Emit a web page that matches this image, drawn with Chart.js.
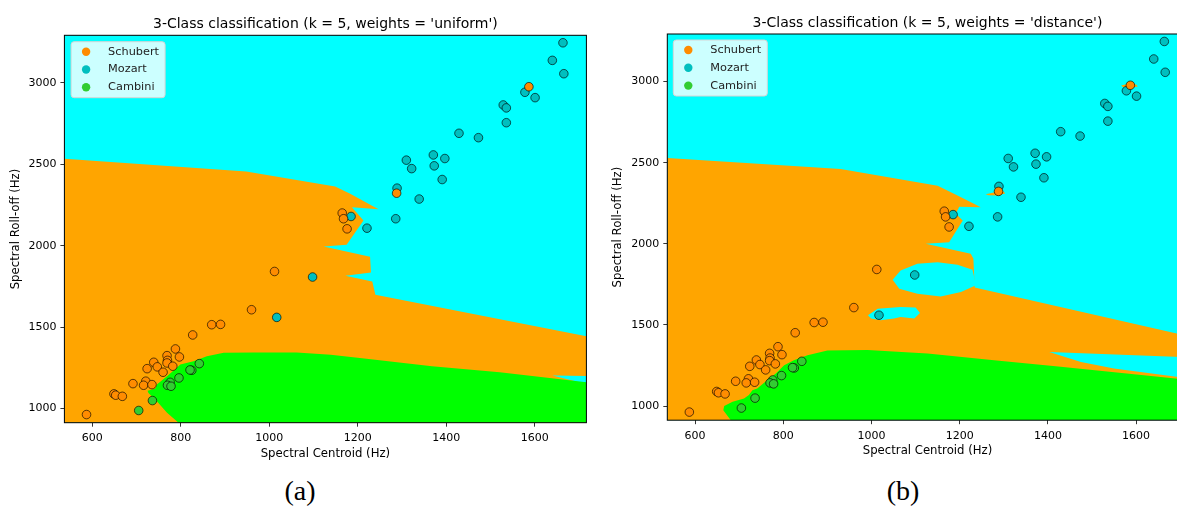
<!DOCTYPE html>
<html>
<head>
<meta charset="utf-8">
<script src="https://cdn.jsdelivr.net/npm/chart.js@4.4.0/dist/chart.umd.min.js"></script>
<style>
  html, body { margin: 0; padding: 0; background: #fff; overflow: hidden; }
  #wrap { position: relative; width: 1177px; height: 506px; overflow: hidden; }
  canvas { position: absolute; top: 0; }
  #chartA { left: 0; }
  #chartB { left: 603px; }
  .cap { position: absolute; top: 477px; line-height: 28px; font-family: "Liberation Serif", serif; font-size: 28px; color: #000; transform: translateX(-50%); }
</style>
</head>
<body>
<div id="wrap">
  <canvas id="chartA" width="648" height="470"></canvas>
  <canvas id="chartB" width="646" height="470"></canvas>
  <div class="cap" style="left:300px">(a)</div>
  <div class="cap" style="left:903px">(b)</div>
</div>
<script>
const xTicks = [600, 800, 1000, 1200, 1400, 1600];
const yTicks = [1000, 1500, 2000, 2500, 3000];
const classNames = ["Schubert", "Mozart", "Cambini"];
const titles = [
  "3-Class classification (k = 5, weights = 'uniform')",
  "3-Class classification (k = 5, weights = 'distance')"
];

// samples: spectral centroid (x) and roll-off (y)
const schubertX = [1587, 1288, 1165, 1168, 1176, 1012, 960, 870, 890, 827, 788, 769, 797, 770, 769, 782, 739, 747, 724, 760, 721, 692, 716, 735, 649, 653, 668, 587];
const schubertY = [2977, 2323, 2201, 2166, 2104, 1842, 1607, 1515, 1517, 1452, 1366, 1325, 1317, 1296, 1280, 1260, 1284, 1256, 1245, 1223, 1168, 1153, 1143, 1147, 1090, 1082, 1075, 963];
const mozartX = [1664, 1640, 1666, 1578, 1601, 1529, 1536, 1536, 1429, 1473, 1371, 1397, 1310, 1373, 1322, 1391, 1289, 1339, 1185, 1286, 1221, 1098, 1017];
const mozartY = [3247, 3139, 3057, 2943, 2910, 2865, 2847, 2756, 2691, 2664, 2558, 2536, 2526, 2491, 2474, 2407, 2354, 2287, 2180, 2166, 2108, 1808, 1560];
const cambiniX = [842, 825, 821, 796, 776, 770, 778, 736, 705];
const cambiniY = [1276, 1235, 1237, 1188, 1161, 1143, 1137, 1049, 988];

// decision regions (uniform), vertices in data units
const uniformOrange = [[537,913],[537,2534],[948,2456],[1149,2364],[1183,2319],[1247,2224],[1187,2236],[1213,2155],[1175,2006],[1123,1996],[1228,1933],[1230,1836],[1172,1816],[1233,1781],[1240,1699],[1717,1444],[1717,913]];
const uniformGreen = [[795,913],[769,974],[746,1045],[727,1096],[725,1110],[742,1121],[746,1147],[769,1198],[791,1250],[799,1270],[829,1290],[859,1321],[897,1342],[965,1345],[1062,1345],[1139,1331],[1215,1307],[1368,1260],[1521,1223],[1717,1161],[1717,913]];
const uniformWedge = [[1640,1203],[1717,1200],[1717,1150]];

// decision regions (distance)
const distanceOrange = [[537,913],[537,2529],[930,2461],[1150,2358],[1195,2297],[1248,2225],[1199,2229],[1191,2186],[1207,2143],[1176,2010],[1123,2000],[1225,1939],[1231,1910],[1234,1731],[1717,1432],[1717,913]];
const distanceGreen = [[681,913],[664,975],[666,1000],[685,1026],[711,1047],[722,1068],[730,1098],[741,1109],[764,1160],[783,1201],[802,1252],[824,1283],[855,1313],[900,1342],[991,1346],[1127,1324],[1278,1283],[1429,1242],[1717,1162],[1717,913]];
const distanceWedge = [[1403,1334],[1717,1301],[1717,1172],[1550,1232],[1475,1272]];
const distanceIsland1 = [[1048,1779],[1066,1836],[1104,1877],[1150,1887],[1195,1871],[1229,1840],[1237,1744],[1203,1703],[1157,1676],[1104,1693],[1063,1723]];
const distanceIsland2 = [[992,1559],[1014,1600],[1066,1610],[1100,1607],[1110,1573],[1097,1539],[1066,1549],[1051,1539],[1021,1529],[999,1539]];
const distanceSpeck1 = [[1566,2975],[1580,2985],[1600,2982],[1604,2970],[1585,2963],[1570,2966]];
const distanceSpeck2 = [[1259,2305],[1280,2318],[1300,2322],[1303,2310],[1285,2298],[1265,2300]];

const pointColors = ["#ff8c00", "#00bfbf", "#32cd32"];
const ORANGE = "#ffa500", CYAN = "#00ffff", GREEN = "#00ff00";

Chart.defaults.font.family = "'DejaVu Sans', sans-serif";
Chart.defaults.color = "#000";

function pts(xs, ys) {
  return xs.map((x, i) => ({ x: x, y: ys[i] }));
}

function makeChart(id, title, regions, lay) {
  const datasets = [
    [schubertX, schubertY], [mozartX, mozartY], [cambiniX, cambiniY]
  ].map((s, i) => ({
    label: classNames[i],
    data: pts(s[0], s[1]),
    order: 0,
    pointRadius: 4.3,
    pointBackgroundColor: pointColors[i],
    pointBorderColor: "rgba(0,0,0,0.8)",
    pointBorderWidth: 0.8,
    backgroundColor: pointColors[i],
    borderColor: "rgba(0,0,0,0.8)"
  }));

  regions.forEach(r => {
    datasets.push({
      data: r.v.map(p => ({ x: p[0], y: p[1] })),
      showLine: true,
      fill: "shape",
      backgroundColor: r.c,
      borderColor: "rgba(0,0,0,0)",
      borderWidth: 0,
      pointRadius: 0,
      tension: 0,
      order: r.o
    });
  });

  const decor = {
    id: "decor",
    beforeDatasetsDraw(chart) {
      const { ctx, chartArea: a } = chart;
      ctx.save();
      ctx.fillStyle = CYAN;
      ctx.fillRect(a.left, a.top, a.width, a.height);
      ctx.restore();
    },
    afterDatasetsDraw(chart) {
      const { ctx, chartArea: a } = chart;
      ctx.save();
      // frame
      ctx.strokeStyle = "#000";
      ctx.lineWidth = 1;
      ctx.strokeRect(a.left, a.top, a.width, a.height);
      // legend box
      const bx = a.left + lay.lx, by = a.top + lay.ly, bw = 94, bh = 56;
      ctx.beginPath();
      ctx.roundRect(bx, by, bw, bh, 3);
      ctx.fillStyle = "rgba(255,255,255,0.8)";
      ctx.fill();
      ctx.strokeStyle = "#d6d6d6";
      ctx.lineWidth = 1;
      ctx.stroke();
      ctx.font = "11.3px 'DejaVu Sans', sans-serif";
      ctx.textBaseline = "middle";
      classNames.forEach((name, i) => {
        const cy = by + 10 + i * 17.8;
        ctx.beginPath();
        ctx.arc(bx + 15, cy, 4.2, 0, Math.PI * 2);
        ctx.fillStyle = pointColors[i];
        ctx.fill();
        ctx.fillStyle = "#222";
        ctx.fillText(name, bx + 37, cy);
      });
      ctx.restore();
    }
  };

  return new Chart(document.getElementById(id), {
    type: "scatter",
    data: { datasets: datasets },
    options: {
      responsive: false,
      animation: false,
      events: [],
      layout: { padding: lay.pad },
      plugins: {
        legend: { display: false },
        tooltip: { enabled: false },
        title: {
          display: true,
          text: title,
          color: "#000",
          font: { size: 14, weight: "normal" },
          padding: lay.tpad
        }
      },
      scales: {
        x: {
          type: "linear",
          min: 537, max: 1717,
          afterBuildTicks: s => { s.ticks = xTicks.map(v => ({ value: v })); },
          afterFit: s => { s.height = 42; },
          grid: { display: true, drawOnChartArea: false, drawTicks: true, tickLength: 4, color: "#000", lineWidth: 0.8 },
          border: { display: false },
          ticks: { color: "#000", font: { size: 11 }, padding: 5, maxRotation: 0, autoSkip: false, callback: v => String(v) },
          title: { display: true, text: "Spectral Centroid (Hz)", color: "#000", font: { size: 11.7 }, padding: { top: 4, bottom: 4 } }
        },
        y: {
          type: "linear",
          min: 913, max: 3293,
          afterBuildTicks: s => { s.ticks = yTicks.map(v => ({ value: v })); },
          afterFit: s => { s.width = 59.9; },
          grid: { display: true, drawOnChartArea: false, drawTicks: true, tickLength: 4, color: "#000", lineWidth: 0.8 },
          border: { display: false },
          ticks: { color: "#000", font: { size: 11 }, padding: 4, autoSkip: false, callback: v => String(v) },
          title: { display: true, text: "Spectral Roll-off (Hz)", color: "#000", font: { size: 11.7 }, padding: { top: 4, bottom: 4 } }
        },
        // empty spacer on the right so the title centres over the plot
        y2: {
          type: "linear",
          position: "right",
          min: 0, max: 1,
          grid: { display: false },
          border: { display: false },
          ticks: { display: false },
          afterFit: s => { s.width = 59.9; }
        }
      }
    },
    plugins: [decor]
  });
}

makeChart("chartA", titles[0], [
  { v: uniformGreen, c: GREEN, o: 1 },
  { v: uniformWedge, c: CYAN, o: 2 },
  { v: uniformOrange, c: ORANGE, o: 3 }
], { pad: { left: 4.5, right: 1.7, top: 0, bottom: 5.3 }, tpad: { top: 15.6, bottom: 2.9 }, lx: 6.7, ly: 6.4 });

makeChart("chartB", titles[1], [
  { v: distanceSpeck1, c: ORANGE, o: 1 },
  { v: distanceSpeck2, c: ORANGE, o: 1 },
  { v: distanceIsland1, c: CYAN, o: 2 },
  { v: distanceIsland2, c: CYAN, o: 2 },
  { v: distanceGreen, c: GREEN, o: 3 },
  { v: distanceWedge, c: CYAN, o: 4 },
  { v: distanceOrange, c: ORANGE, o: 5 }
], { pad: { left: 4.4, right: 1.4, top: 0, bottom: 7.8 }, tpad: { top: 14.6, bottom: 2.6 }, lx: 6, ly: 6 });
</script>
</body>
</html>
